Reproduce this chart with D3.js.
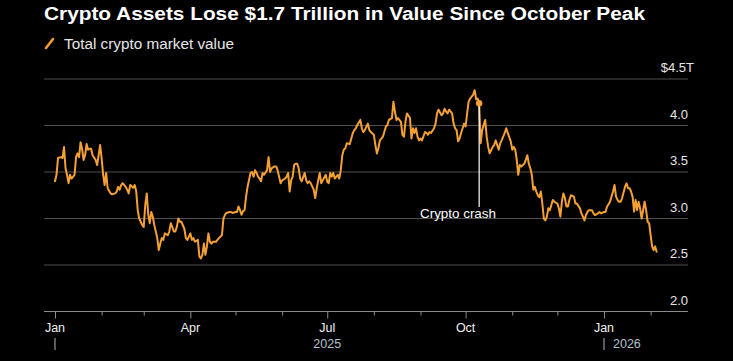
<!DOCTYPE html>
<html>
<head>
<meta charset="utf-8">
<script src="https://cdn.jsdelivr.net/npm/d3@7"></script>
<style>
  html, body { margin: 0; padding: 0; background: #000; }
  svg { display: block; font-family: "Liberation Sans", Arial, sans-serif; }
</style>
</head>
<body>
<svg id="chart" width="733" height="361"></svg>
<script>
// ---- Data ----
const titleText = "Crypto Assets Lose $1.7 Trillion in Value Since October Peak";
const legendLabel = "Total crypto market value";
const startDate = new Date(2025, 0, 1);
// days since 2025-01-01
const dayIndex = [
  0,1,2,4,5,6,7,8,9,10,11,13,14,15,16,17,18,19,20,21,22,23,24,25,27,28,29,30,31,32,33,34,35,37,38,40,41,42,43,44,45,47,48,49,50,52,53,54,55,56,58,59,60,61,62,63,64,65,66,68,69,70,71,72,73,75,76,77,79,80,
  81,82,83,84,86,87,88,90,91,92,93,95,96,97,98,99,100,101,102,103,104,105,107,108,109,111,112,113,114,116,117,118,120,121,122,123,124,125,126,127,128,130,131,132,133,134,135,136,137,138,139,141,142,143,144,146,147,148,149,150,151,153,154,155,156,157,158,159,
  160,161,162,163,164,166,167,168,169,170,172,173,174,175,176,177,178,180,181,182,183,184,185,186,188,189,190,191,192,193,194,196,197,198,199,200,201,203,204,205,206,208,209,210,212,213,214,215,216,217,218,220,221,222,224,225,226,227,228,230,231,232,233,234,236,
  237,238,239,240,241,242,243,244,246,247,248,249,250,252,253,254,255,257,258,259,260,261,262,264,265,266,267,268,269,270,271,272,273,274,275,276,277,278,279,280,281,282,283,284,286,287,288,289,291,292,293,295,296,297,299,300,301,303,304,305,306,307,308,309,310,312,313,314,315,
  316,317,318,319,320,321,322,323,324,325,326,327,328,329,330,331,332,334,335,336,337,338,339,340,341,342,343,345,346,347,349,350,351,352,353,354,355,357,358,359,361,362,363,365,366,367,369,370,371,372,373,374,375,376,377,379,380,381,382,383,384,385,386,387,388,389,390,391,392,393,394,395,396,397,398,399,400
];
// total crypto market value, $ trillions
const marketValue = [
  3.40,3.47,3.65,3.66,3.65,3.77,3.54,3.47,3.38,3.47,3.43,3.47,3.66,3.70,3.66,3.82,3.75,3.63,3.68,3.80,3.74,3.75,3.75,3.68,3.63,3.575,3.68,3.79,3.65,3.47,3.36,3.49,3.325,3.27,3.26,3.27,3.29,3.34,3.31,3.36,3.38,3.34,3.31,3.27,3.36,3.33,3.36,3.29,3.09,3.00,2.93,2.91,3.145,3.27,3.04,2.95,3.07,3.02,2.93,2.79,2.66,2.73,2.79,2.77,2.84,2.82,2.86,2.95,2.86,2.86,
  2.91,3.00,2.965,2.965,2.89,2.79,2.77,2.84,2.77,2.79,2.75,2.77,2.59,2.57,2.61,2.73,2.61,2.70,2.84,2.75,2.73,2.75,2.75,2.77,2.79,2.82,3.00,3.04,3.06,3.07,3.07,3.06,3.07,3.07,3.13,3.09,3.04,3.08,3.09,3.23,3.34,3.49,3.50,3.45,3.52,3.49,3.45,3.43,3.40,3.49,3.47,3.52,3.66,3.50,3.54,3.56,3.56,3.52,3.45,3.38,3.41,3.43,3.45,3.49,3.29,3.41,3.45,3.575,
  3.59,3.59,3.54,3.43,3.40,3.49,3.41,3.38,3.40,3.38,3.31,3.22,3.325,3.41,3.49,3.38,3.41,3.47,3.395,3.38,3.49,3.45,3.49,3.43,3.47,3.43,3.52,3.68,3.74,3.755,3.81,3.80,3.86,3.92,3.95,3.97,4.005,4.06,3.97,3.93,3.95,4.02,3.95,3.93,3.90,3.79,3.70,3.755,3.84,3.86,3.88,3.99,4.005,4.06,4.08,4.256,4.15,4.06,4.08,4.04,3.90,3.88,4.04,4.13,4.08,
  3.86,3.97,3.92,3.97,3.88,3.84,3.86,3.84,3.93,3.92,3.90,3.93,3.92,3.97,4.02,4.13,4.17,4.11,4.13,4.18,4.15,4.13,4.17,4.13,4.02,3.97,3.95,3.83,3.86,3.92,3.97,4.02,3.99,4.13,4.256,4.29,4.31,4.33,4.38,4.28,4.29,4.24,3.81,3.95,4.06,3.88,3.77,3.70,3.77,3.79,3.84,3.74,3.81,3.84,3.92,3.97,3.92,3.83,3.74,3.77,3.74,3.63,3.47,3.575,3.56,3.59,3.63,3.68,3.59,
  3.54,3.47,3.31,3.34,3.29,3.25,3.23,3.29,3.16,3.00,2.98,3.02,3.11,3.09,3.145,3.20,3.18,3.16,3.11,3.02,3.18,3.27,3.22,3.13,3.13,3.20,3.25,3.235,3.16,3.16,3.11,3.055,3.02,2.98,3.037,3.07,3.09,3.09,3.055,3.037,3.055,3.07,3.055,3.07,3.07,3.127,3.18,3.235,3.29,3.36,3.235,3.20,3.18,3.18,3.217,3.342,3.378,3.325,3.325,3.29,3.235,3.073,3.20,3.09,3.18,3.11,3.00,3.09,3.18,3.09,2.965,2.95,2.82,2.70,2.66,2.70,2.643
];
const yTicks = [2.0, 2.5, 3.0, 3.5, 4.0, 4.5];
const yTickLabels = ["2.0", "2.5", "3.0", "3.5", "4.0", "$4.5T"];
const majorMonths = [0, 3, 6, 9];           // Jan, Apr, Jul, Oct
const monthLabels = ["Jan", "Apr", "Jul", "Oct"];
const yearLabels = ["2025", "2026"];
const annotationDay = 282;
const annotationLabel = "Crypto crash";

// ---- Build ----
const data = dayIndex.map((d, i) => ({ date: d3.timeDay.offset(startDate, d), value: marketValue[i] }));

const svg = d3.select("#chart");
const x = d3.scaleTime().domain([new Date(2025, 0, 1), new Date(2026, 0, 1)]).range([55, 604]);
const y = d3.scaleLinear().domain([2, 4.5]).range([311.5, 79]);
const gridLeft = 44, gridRight = 688;

svg.append("rect").attr("width", 733).attr("height", 361).attr("fill", "#000");

// Title
svg.append("text").attr("x", 44).attr("y", 20)
  .attr("fill", "#ffffff").attr("font-size", 18).attr("font-weight", "bold")
  .attr("textLength", 601).attr("lengthAdjust", "spacingAndGlyphs")
  .text(titleText);

// Legend
svg.append("line").attr("x1", 46).attr("y1", 48).attr("x2", 53).attr("y2", 39)
  .attr("stroke", "#f5a033").attr("stroke-width", 2.5).attr("stroke-linecap", "round");
svg.append("text").attr("x", 64).attr("y", 49)
  .attr("fill", "#e6e6e6").attr("font-size", 14)
  .attr("textLength", 170).attr("lengthAdjust", "spacingAndGlyphs")
  .text(legendLabel);

// Grid lines
svg.append("g").selectAll("line").data(yTicks.filter(t => t > 2)).join("line")
  .attr("x1", gridLeft).attr("x2", gridRight)
  .attr("y1", d => y(d)).attr("y2", d => y(d))
  .attr("stroke", "#4f4f4f").attr("stroke-width", 1.2);

// Y labels
svg.append("g").selectAll("text").data(yTicks).join("text")
  .attr("x", (d, i) => i === yTicks.length - 1 ? 694 : gridRight)
  .attr("y", d => y(d) - 7)
  .attr("text-anchor", "end")
  .attr("fill", "#e6e6e6").attr("font-size", 13)
  .text((d, i) => yTickLabels[i]);

// X axis baseline
svg.append("line").attr("x1", gridLeft).attr("x2", gridRight)
  .attr("y1", y(2)).attr("y2", y(2)).attr("stroke", "#8c8c8c").attr("stroke-width", 1.2);

// Month ticks via d3 axis
const monthTicks = d3.timeMonth.range(new Date(2025, 0, 1), new Date(2026, 1, 2));
const xAxis = d3.axisBottom(x).tickValues(monthTicks).tickSize(4).tickFormat("");
const axG = svg.append("g").attr("transform", `translate(0,${y(2)})`).call(xAxis);
axG.select(".domain").remove();
axG.selectAll(".tick line")
  .attr("stroke", "#8c8c8c")
  .attr("y2", d => majorMonths.includes(d.getMonth()) ? 7 : 4);

// Month labels
const labelDates = monthTicks.filter(d => majorMonths.includes(d.getMonth()));
svg.append("g").selectAll("text").data(labelDates).join("text")
  .attr("x", d => x(d)).attr("y", 332)
  .attr("text-anchor", "middle").attr("fill", "#f0f0f0").attr("font-size", 12.5)
  .text(d => monthLabels[majorMonths.indexOf(d.getMonth())]);

// Year separators and labels
svg.append("line").attr("x1", x(new Date(2025,0,1))).attr("x2", x(new Date(2025,0,1)))
  .attr("y1", 338).attr("y2", 350).attr("stroke", "#aab4c0").attr("stroke-width", 1);
svg.append("line").attr("x1", x(new Date(2026,0,1))).attr("x2", x(new Date(2026,0,1)))
  .attr("y1", 338).attr("y2", 350).attr("stroke", "#aab4c0").attr("stroke-width", 1);
svg.append("text").attr("x", x(new Date(2025, 6, 1))).attr("y", 348)
  .attr("text-anchor", "middle").attr("fill", "#b4c0cc").attr("font-size", 12.5).text(yearLabels[0]);
svg.append("text").attr("x", x(new Date(2026, 0, 1)) + 9).attr("y", 348)
  .attr("text-anchor", "start").attr("fill", "#b4c0cc").attr("font-size", 12.5).text(yearLabels[1]);

// Line
const line = d3.line().x(d => x(d.date)).y(d => y(d.value)).curve(d3.curveLinear);
svg.append("path").datum(data)
  .attr("d", line).attr("fill", "none")
  .attr("stroke", "#f5a033").attr("stroke-width", 2)
  .attr("stroke-linejoin", "round").attr("stroke-linecap", "round");

// Annotation
const annDate = d3.timeDay.offset(startDate, annotationDay);
const annVal = marketValue[dayIndex.indexOf(annotationDay)];
svg.append("line").attr("x1", x(annDate)).attr("x2", x(annDate))
  .attr("y1", y(annVal)).attr("y2", 207)
  .attr("stroke", "#ffffff").attr("stroke-width", 1.2);
svg.append("circle").attr("cx", x(annDate)).attr("cy", y(annVal)).attr("r", 3.2)
  .attr("fill", "#f5a033");
svg.append("text").attr("x", 420).attr("y", 218)
  .attr("fill", "#ffffff").attr("font-size", 13)
  .attr("textLength", 76).attr("lengthAdjust", "spacingAndGlyphs")
  .text(annotationLabel);
</script>
</body>
</html>
